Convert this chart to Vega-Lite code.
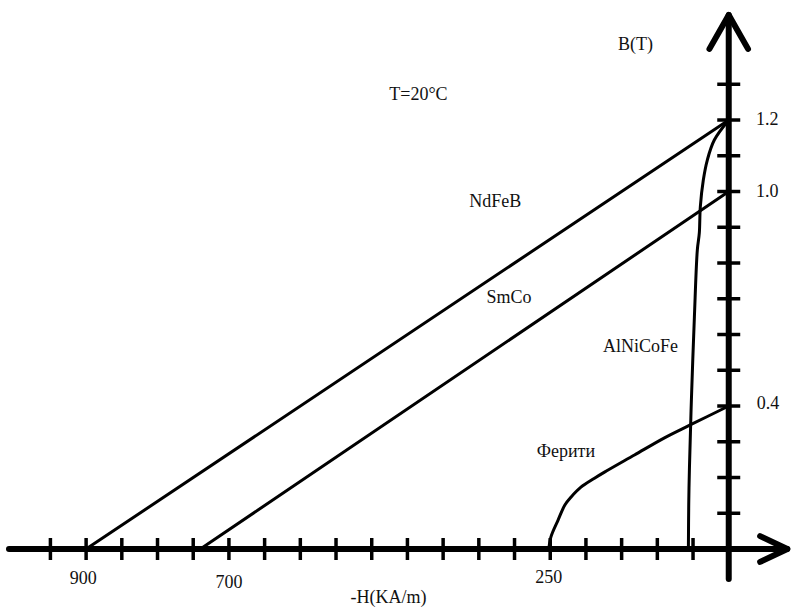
{
  "$schema": "https://vega.github.io/schema/vega-lite/v6.json",
  "width": 791,
  "height": 608,
  "padding": 0,
  "autosize": {"type": "fit", "contains": "padding"},
  "background": "white",
  "config": {"view": {"stroke": null}},
  "datasets": {
    "curves": [
      {"series": "NdFeB", "i": 0, "H": 900, "B": 0},
      {"series": "NdFeB", "i": 1, "H": 0, "B": 1.2},
      {"series": "SmCo", "i": 0, "H": 740, "B": 0},
      {"series": "SmCo", "i": 1, "H": 0, "B": 1.0},
      {"series": "Ferrite", "i": 0, "H": 252, "B": 0},
      {"series": "Ferrite", "i": 1, "H": 249, "B": 0.034},
      {"series": "Ferrite", "i": 2, "H": 239, "B": 0.081},
      {"series": "Ferrite", "i": 3, "H": 229.5, "B": 0.123},
      {"series": "Ferrite", "i": 4, "H": 221, "B": 0.145},
      {"series": "Ferrite", "i": 5, "H": 207, "B": 0.173},
      {"series": "Ferrite", "i": 6, "H": 188, "B": 0.198},
      {"series": "Ferrite", "i": 7, "H": 174, "B": 0.215},
      {"series": "Ferrite", "i": 8, "H": 132, "B": 0.263},
      {"series": "Ferrite", "i": 9, "H": 90, "B": 0.311},
      {"series": "Ferrite", "i": 10, "H": 54, "B": 0.347},
      {"series": "Ferrite", "i": 11, "H": 0, "B": 0.4},
      {"series": "AlNiCoFe", "i": 0, "H": 56.5, "B": 0},
      {"series": "AlNiCoFe", "i": 1, "H": 56, "B": 0.129},
      {"series": "AlNiCoFe", "i": 2, "H": 55, "B": 0.229},
      {"series": "AlNiCoFe", "i": 3, "H": 52.3, "B": 0.417},
      {"series": "AlNiCoFe", "i": 4, "H": 48.1, "B": 0.649},
      {"series": "AlNiCoFe", "i": 5, "H": 44, "B": 0.836},
      {"series": "AlNiCoFe", "i": 6, "H": 41.2, "B": 0.884},
      {"series": "AlNiCoFe", "i": 7, "H": 39.8, "B": 0.957},
      {"series": "AlNiCoFe", "i": 8, "H": 35.6, "B": 1.032},
      {"series": "AlNiCoFe", "i": 9, "H": 30, "B": 1.088},
      {"series": "AlNiCoFe", "i": 10, "H": 20.2, "B": 1.144},
      {"series": "AlNiCoFe", "i": 11, "H": 0, "B": 1.2}
    ],
    "axes": [
      {"g": "xaxis", "i": 0, "H": 1008, "B": 0},
      {"g": "xaxis", "i": 1, "H": -82, "B": 0},
      {"g": "yaxis", "i": 0, "H": 0, "B": -0.084},
      {"g": "yaxis", "i": 1, "H": 0, "B": 1.494},
      {"g": "xarrow", "i": 0, "H": -44, "B": 0.036},
      {"g": "xarrow", "i": 1, "H": -82, "B": 0},
      {"g": "xarrow", "i": 2, "H": -44, "B": -0.036},
      {"g": "yarrow", "i": 0, "H": 27, "B": 1.399},
      {"g": "yarrow", "i": 1, "H": 0, "B": 1.494},
      {"g": "yarrow", "i": 2, "H": -27, "B": 1.399}
    ],
    "xticks": [
      {"H": 950, "B": 0}, {"H": 900, "B": 0}, {"H": 850, "B": 0}, {"H": 800, "B": 0},
      {"H": 750, "B": 0}, {"H": 700, "B": 0}, {"H": 650, "B": 0}, {"H": 600, "B": 0},
      {"H": 550, "B": 0}, {"H": 500, "B": 0}, {"H": 450, "B": 0}, {"H": 400, "B": 0},
      {"H": 350, "B": 0}, {"H": 300, "B": 0}, {"H": 250, "B": 0}, {"H": 200, "B": 0},
      {"H": 150, "B": 0}, {"H": 100, "B": 0}, {"H": 50, "B": 0}
    ],
    "yticks": [
      {"H": 0, "B": 0.1}, {"H": 0, "B": 0.2}, {"H": 0, "B": 0.3}, {"H": 0, "B": 0.4},
      {"H": 0, "B": 0.5}, {"H": 0, "B": 0.6}, {"H": 0, "B": 0.7}, {"H": 0, "B": 0.8},
      {"H": 0, "B": 0.9}, {"H": 0, "B": 1.0}, {"H": 0, "B": 1.1}, {"H": 0, "B": 1.2},
      {"H": 0, "B": 1.3}
    ],
    "labels": [
      {"text": "900", "H": 904, "B": -0.084},
      {"text": "700", "H": 700, "B": -0.095},
      {"text": "250", "H": 252, "B": -0.081},
      {"text": "1.2", "H": -54, "B": 1.2},
      {"text": "1.0", "H": -54, "B": 1.0},
      {"text": "0.4", "H": -55, "B": 0.405},
      {"text": "B(T)", "H": 130.5, "B": 1.41},
      {"text": "T=20°C", "H": 434.6, "B": 1.27},
      {"text": "NdFeB", "H": 327, "B": 0.971},
      {"text": "SmCo", "H": 307.6, "B": 0.702},
      {"text": "AlNiCoFe", "H": 123.5, "B": 0.565},
      {"text": "Ферити", "H": 228, "B": 0.271},
      {"text": "-H(KA/m)", "H": 476.5, "B": -0.137}
    ]
  },
  "encoding": {
    "x": {"field": "H", "type": "quantitative", "axis": null,
          "scale": {"domain": [-83.0, 1020.6], "reverse": true, "nice": false, "zero": false}},
    "y": {"field": "B", "type": "quantitative", "axis": null,
          "scale": {"domain": [-0.165, 1.5357], "nice": false, "zero": false}}
  },
  "layer": [
    {
      "data": {"name": "curves"},
      "mark": {"type": "line", "color": "black", "strokeWidth": 3, "interpolate": "catmull-rom", "strokeCap": "round"},
      "encoding": {"detail": {"field": "series"}, "order": {"field": "i", "type": "quantitative"}}
    },
    {
      "data": {"name": "xticks"},
      "mark": {"type": "tick", "orient": "vertical", "color": "black", "size": 22, "thickness": 3.5, "opacity": 1}
    },
    {
      "data": {"name": "yticks"},
      "mark": {"type": "tick", "orient": "horizontal", "color": "black", "size": 23, "thickness": 3.5, "opacity": 1}
    },
    {
      "data": {"name": "axes"},
      "mark": {"type": "line", "color": "black", "strokeWidth": 6, "strokeCap": "round", "strokeJoin": "round"},
      "encoding": {"detail": {"field": "g"}, "order": {"field": "i", "type": "quantitative"}}
    },
    {
      "data": {"name": "labels"},
      "mark": {"type": "text", "font": "'Liberation Serif', 'Times New Roman', serif", "fontSize": 18, "color": "#111111", "align": "center", "baseline": "middle"},
      "encoding": {"text": {"field": "text"}}
    }
  ]
}
